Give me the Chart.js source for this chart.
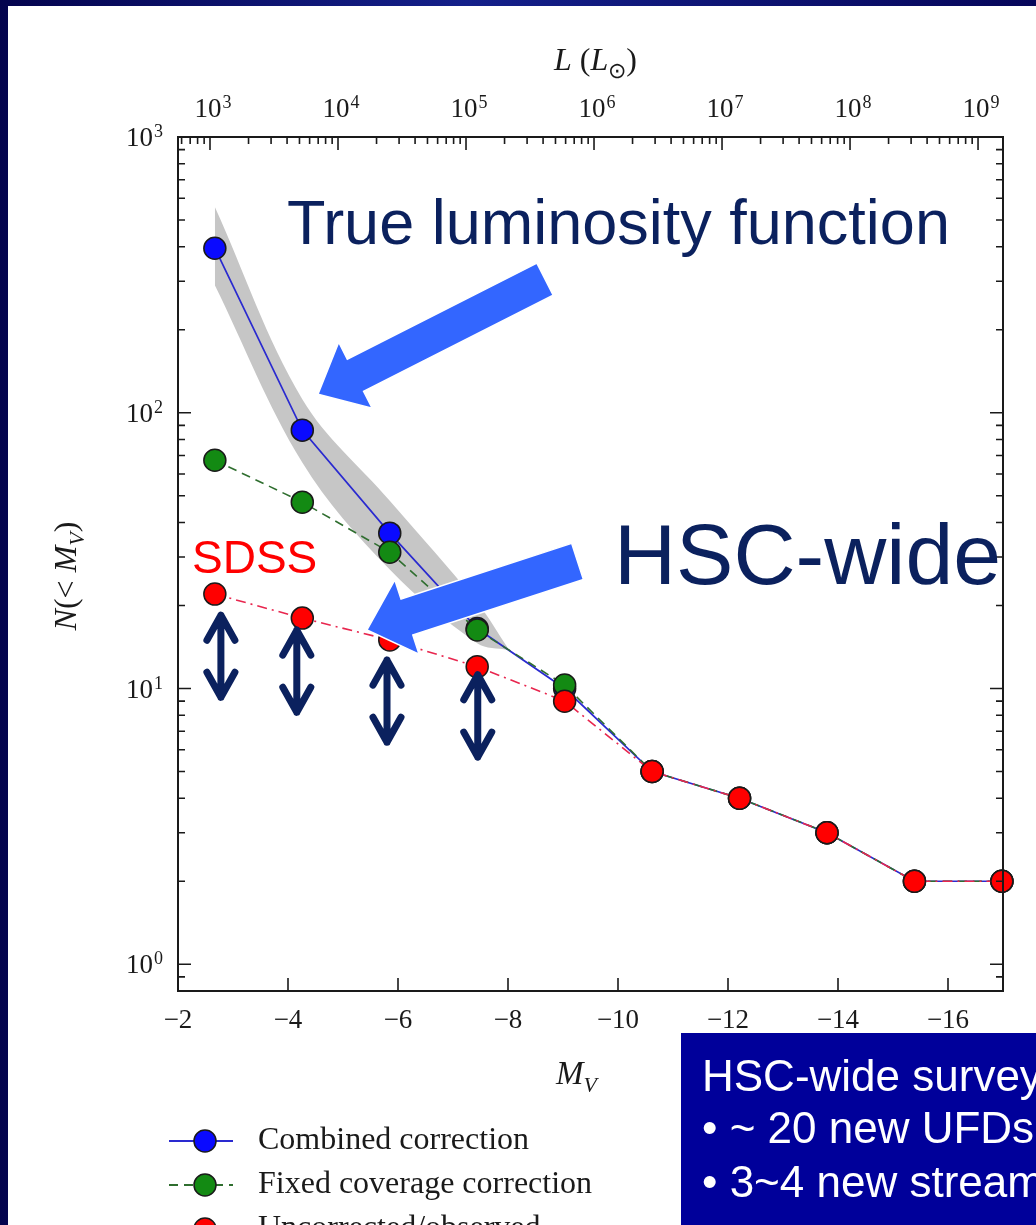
<!DOCTYPE html>
<html>
<head>
<meta charset="utf-8">
<title>Cumulative luminosity function of Milky Way satellites</title>
<style>
  html, body { margin: 0; padding: 0; background: #06065c; overflow: hidden; }
  #wrap { position: relative; width: 1036px; height: 1225px; }
  canvas { display: block; }
</style>
<script src="https://cdn.jsdelivr.net/npm/chart.js@4.4.1/dist/chart.umd.min.js"></script>
</head>
<body>
<div id="wrap"><canvas id="lf" width="1036" height="1225"></canvas></div>
<script>
// ---- data -------------------------------------------------------------
// absolute magnitude bins (M_V) shared by the three cumulative counts
const magnitudes    = [-2.67, -4.26, -5.85, -7.44, -9.03, -10.62, -12.21, -13.80, -15.39, -16.98];
const combined      = [395, 86.5, 36.6, 16.5, 10, 5, 4, 3, 2, 2];
const fixedCoverage = [67.3, 47.4, 31.2, 16.3, 10.3, 5, 4, 3, 2, 2];
const uncorrected   = [22, 18, 15, 12, 9, 5, 4, 3, 2, 2];

// uncertainty envelope around the combined correction
const bandMagnitudes = [-2.67, -4.26, -5.85, -7.44, -8.0];
const bandUpper      = [557, 112, 48, 20.5, 14];
const bandLower      = [290, 66, 27, 14.6, 13.8];

const seriesLabels = ['Combined correction', 'Fixed coverage correction', 'Uncorrected/observed'];

// axis ticks
const magTicks     = [-2, -4, -6, -8, -10, -12, -14, -16];
const countTicks   = [1, 10, 100, 1000];
const lumExponents = [3, 4, 5, 6, 7, 8, 9];

// ---- helpers ----------------------------------------------------------
const SERIF = '"Liberation Serif", "Times New Roman", serif';
const SANS = '"Liberation Sans", Arial, sans-serif';
const pts = (xs, ys) => xs.map((x, i) => ({ x: x, y: ys[i] }));

function partFont(p, size) {
  const s = p.sub ? Math.round(size * 0.68) : size;
  return (p.it ? 'italic ' : '') + s + 'px ' + SERIF;
}
function drawRich(ctx, parts, x, y, size) {
  let w = 0;
  parts.forEach(p => { ctx.font = partFont(p, size); w += ctx.measureText(p.t).width; });
  let cx = x - w / 2;
  ctx.textAlign = 'left';
  ctx.textBaseline = 'alphabetic';
  parts.forEach(p => {
    ctx.font = partFont(p, size);
    ctx.fillText(p.t, cx, y + (p.sub ? size * 0.25 : 0));
    cx += ctx.measureText(p.t).width;
  });
}

// "10" with a raised exponent; align = 'center' or 'right', y = baseline
function drawPow10(ctx, exp, x, y, align) {
  const base = '27px ' + SERIF, sup = '18px ' + SERIF;
  ctx.font = base; const wb = ctx.measureText('10').width;
  ctx.font = sup;  const we = ctx.measureText(String(exp)).width;
  const w = wb + we + 1;
  const x0 = align === 'right' ? x - w : x - w / 2;
  ctx.textAlign = 'left';
  ctx.textBaseline = 'alphabetic';
  ctx.font = base; ctx.fillText('10', x0, y);
  ctx.font = sup;  ctx.fillText(String(exp), x0 + wb + 1, y - 9);
}

// block arrow from tail to tip (both in pixels)
function blockArrow(ctx, tail, tip, shaftHalf, headLen, headHalf, color) {
  const dx = tail.x - tip.x, dy = tail.y - tip.y;
  const len = Math.hypot(dx, dy);
  const ux = dx / len, uy = dy / len;
  const nx = -uy, ny = ux;
  const P = (a, b) => [tip.x + ux * a + nx * b, tip.y + uy * a + ny * b];
  const poly = [P(0, 0), P(headLen, headHalf), P(headLen, shaftHalf), P(len, shaftHalf),
                P(len, -shaftHalf), P(headLen, -shaftHalf), P(headLen, -headHalf)];
  ctx.beginPath();
  poly.forEach((q, i) => i ? ctx.lineTo(q[0], q[1]) : ctx.moveTo(q[0], q[1]));
  ctx.closePath();
  ctx.fillStyle = color;
  ctx.fill();
  ctx.lineWidth = 1.5;
  ctx.strokeStyle = '#ffffff';
  ctx.stroke();
}

// vertical double-headed arrow with chevron heads
function doubleArrow(ctx, x, yTop, yBot, color) {
  ctx.save();
  ctx.strokeStyle = color;
  ctx.lineWidth = 7;
  ctx.lineCap = 'round';
  ctx.lineJoin = 'round';
  ctx.beginPath();
  ctx.moveTo(x, yTop + 3); ctx.lineTo(x, yBot - 3);
  ctx.moveTo(x - 14, yTop + 28); ctx.lineTo(x, yTop + 3); ctx.lineTo(x + 14, yTop + 28);
  ctx.moveTo(x - 14, yBot - 28); ctx.lineTo(x, yBot - 3); ctx.lineTo(x + 14, yBot - 28);
  ctx.stroke();
  ctx.restore();
}

// ---- slide annotations (anchored in data space) ----------------------
const bigArrows = [
  { tail: { m: -8.673, n: 305 }, tip: { m: -4.545, n: 116.8 }, shaft: 18, head: 42, headHalf: 37 },
  { tail: { m: -9.264, n: 28.9 }, tip: { m: -5.436, n: 16.3 }, shaft: 19, head: 42, headHalf: 39 }
];
const rangeArrows = [
  { m: -2.78, top: 18.9, bottom: 9.07 },
  { m: -4.16, top: 16.7, bottom: 8.0 },
  { m: -5.80, top: 13.0, bottom: 6.23 },
  { m: -7.45, top: 11.5, bottom: 5.5 }
];

// ---- plugins ----------------------------------------------------------
const slideBackground = {
  id: 'slideBackground',
  beforeDraw(chart) {
    const ctx = chart.ctx;
    const W = chart.width, H = chart.height;
    ctx.save();
    const g = ctx.createLinearGradient(0, 0, W, 0);
    g.addColorStop(0, '#04044e');
    g.addColorStop(0.45, '#14208a');
    g.addColorStop(1, '#06065a');
    ctx.fillStyle = g;
    ctx.fillRect(0, 0, W, H);
    ctx.fillStyle = '#ffffff';
    ctx.fillRect(8, 6, W - 8, H - 6);
    ctx.restore();
  }
};

const axisFrame = {
  id: 'axisFrame',
  afterDatasetsDraw(chart) {
    const ctx = chart.ctx;
    const a = chart.chartArea;
    const x = chart.scales.x, y = chart.scales.y, xt = chart.scales.xTop;
    ctx.save();
    ctx.strokeStyle = '#1a1a1a';
    ctx.lineWidth = 2;
    ctx.strokeRect(a.left, a.top, a.right - a.left, a.bottom - a.top);
    ctx.lineWidth = 1.6;
    ctx.beginPath();
    // logarithmic ticks on left and right edges
    for (let k = -1; k <= 2; k++) {
      for (let m = 1; m <= 9; m++) {
        const v = m * Math.pow(10, k);
        if (v <= y.min || v > y.max) continue;
        const py = y.getPixelForValue(v);
        const L = m === 1 ? 13 : 7;
        ctx.moveTo(a.left, py); ctx.lineTo(a.left + L, py);
        ctx.moveTo(a.right, py); ctx.lineTo(a.right - L, py);
      }
    }
    // magnitude ticks on the bottom edge
    magTicks.forEach(v => {
      const px = x.getPixelForValue(v);
      ctx.moveTo(px, a.bottom); ctx.lineTo(px, a.bottom - 13);
    });
    // luminosity ticks on the top edge
    for (let k = 2; k <= 9; k++) {
      for (let m = 1; m <= 9; m++) {
        const v = k + Math.log10(m);
        if (v < xt.min || v > xt.max) continue;
        const px = xt.getPixelForValue(v);
        const L = m === 1 ? 13 : 7;
        ctx.moveTo(px, a.top); ctx.lineTo(px, a.top + L);
      }
    }
    ctx.stroke();

    // power-of-ten tick labels (left and top)
    ctx.fillStyle = '#1a1a1a';
    y.ticks.forEach(t => {
      drawPow10(ctx, Math.round(Math.log10(t.value)), a.left - 15, y.getPixelForValue(t.value) + 9, 'right');
    });
    xt.ticks.forEach(t => {
      drawPow10(ctx, t.value, xt.getPixelForValue(t.value) + 3, a.top - 20, 'center');
    });
    ctx.restore();
  },
  afterDraw(chart) {
    const ctx = chart.ctx;
    const a = chart.chartArea;
    const x = chart.scales.x, y = chart.scales.y;
    const P = d => ({ x: x.getPixelForValue(d.m), y: y.getPixelForValue(d.n) });
    ctx.save();

    // axis titles
    ctx.fillStyle = '#1a1a1a';
    drawRich(ctx, [{ t: 'L', it: true }, { t: ' (' }, { t: 'L', it: true }, { t: '\u2299', sub: true }, { t: ')' }],
             (a.left + a.right) / 2 + 5, 70, 32);
    drawRich(ctx, [{ t: 'M', it: true }, { t: 'V', it: true, sub: true }], (a.left + a.right) / 2 - 14, 1084, 33);
    ctx.save();
    ctx.translate(66, 576);
    ctx.rotate(-Math.PI / 2);
    drawRich(ctx, [{ t: 'N', it: true }, { t: '(< ' }, { t: 'M', it: true }, { t: 'V', it: true, sub: true }, { t: ')' }], 0, 10, 32);
    ctx.restore();

    // legend
    const ds = chart.data.datasets;
    const rows = [2, 1, 0];
    rows.forEach((di, r) => {
      const d = ds[di];
      const cy = 1141 + r * 44;
      ctx.save();
      ctx.strokeStyle = d.borderColor;
      ctx.lineWidth = 1.8;
      ctx.setLineDash(d.borderDash || []);
      ctx.beginPath(); ctx.moveTo(169, cy); ctx.lineTo(233, cy); ctx.stroke();
      ctx.setLineDash([]);
      ctx.beginPath(); ctx.arc(205, cy, 11, 0, Math.PI * 2);
      ctx.fillStyle = d.pointBackgroundColor; ctx.fill();
      ctx.lineWidth = 1.5; ctx.strokeStyle = d.pointBorderColor; ctx.stroke();
      ctx.restore();
      ctx.fillStyle = '#1a1a1a';
      ctx.font = '32px ' + SERIF;
      ctx.textAlign = 'left';
      ctx.textBaseline = 'middle';
      ctx.fillText(d.label, 258, cy);
    });

    // slide call-outs
    ctx.textAlign = 'left';
    ctx.textBaseline = 'alphabetic';
    ctx.fillStyle = '#0b215e';
    ctx.font = '63px ' + SANS;
    ctx.fillText('True luminosity function', 287, 244);
    ctx.font = '86px ' + SANS;
    ctx.fillText('HSC-wide', 614, 584);
    ctx.fillStyle = '#ff0000';
    ctx.font = '46px ' + SANS;
    ctx.fillText('SDSS', 192, 573);

    bigArrows.forEach(b => blockArrow(ctx, P(b.tail), P(b.tip), b.shaft, b.head, b.headHalf, '#3366ff'));
    rangeArrows.forEach(r => doubleArrow(ctx, x.getPixelForValue(r.m), y.getPixelForValue(r.top), y.getPixelForValue(r.bottom), '#0b215e'));

    // survey summary box
    ctx.fillStyle = '#00009a';
    ctx.fillRect(681, 1033, 360, 200);
    ctx.fillStyle = '#ffffff';
    ctx.font = '44px ' + SANS;
    ctx.fillText('HSC-wide survey:', 702, 1091);
    ctx.fillText('\u2022 ~ 20 new UFDs', 702, 1143);
    ctx.fillText('\u2022 3~4 new streams', 702, 1197);
    ctx.restore();
  }
};

// ---- chart ------------------------------------------------------------
const tickFont = { family: SERIF, size: 27 };

new Chart(document.getElementById('lf'), {
  type: 'line',
  data: {
    datasets: [
      {
        label: seriesLabels[2], data: pts(magnitudes, uncorrected), order: 0,
        borderColor: '#e8264e', borderWidth: 1.6, borderDash: [10, 5, 2, 5],
        pointBackgroundColor: '#ff0000', pointBorderColor: '#1a1a1a',
        pointRadius: 11, pointHoverRadius: 11, pointBorderWidth: 1.5, fill: false, clip: false
      },
      {
        label: seriesLabels[1], data: pts(magnitudes, fixedCoverage), order: 1,
        borderColor: '#2f6e2f', borderWidth: 1.6, borderDash: [9, 6],
        pointBackgroundColor: '#138a13', pointBorderColor: '#1a1a1a',
        pointRadius: 11, pointHoverRadius: 11, pointBorderWidth: 1.5, fill: false, clip: false
      },
      {
        label: seriesLabels[0], data: pts(magnitudes, combined), order: 2,
        borderColor: '#2a2ad0', borderWidth: 1.7,
        pointBackgroundColor: '#0a0aff', pointBorderColor: '#1a1a1a',
        pointRadius: 11, pointHoverRadius: 11, pointBorderWidth: 1.5, fill: false, clip: false
      },
      {
        label: 'envelope upper', data: pts(bandMagnitudes, bandUpper), order: 3,
        borderWidth: 0, borderColor: 'rgba(0,0,0,0)', pointRadius: 0, tension: 0.35, fill: false
      },
      {
        label: 'envelope lower', data: pts(bandMagnitudes, bandLower), order: 4,
        borderWidth: 0, borderColor: 'rgba(0,0,0,0)', pointRadius: 0, tension: 0.35,
        fill: '-1', backgroundColor: '#c6c6c6'
      }
    ]
  },
  options: {
    responsive: false,
    animation: false,
    events: [],
    layout: { padding: { left: 0, right: 33, top: 0, bottom: 0 } },
    plugins: { legend: { display: false }, tooltip: { enabled: false } },
    scales: {
      x: {
        type: 'linear', position: 'bottom', min: -17, max: -2, reverse: true,
        grid: { display: false, drawTicks: false }, border: { display: false },
        afterBuildTicks: s => { s.ticks = magTicks.map(v => ({ value: v })); },
        afterFit: s => { s.height = 234; },
        ticks: { font: tickFont, color: '#1a1a1a', padding: 14, maxRotation: 0, autoSkip: false,
                 callback: v => '\u2212' + Math.abs(v) }
      },
      xTop: {
        type: 'linear', position: 'top', min: 2.75, max: 9.195,
        grid: { display: false, drawTicks: false }, border: { display: false },
        afterBuildTicks: s => { s.ticks = lumExponents.map(v => ({ value: v })); },
        afterFit: s => { s.height = 137; },
        ticks: { display: false }
      },
      y: {
        type: 'logarithmic', position: 'left', min: 0.8, max: 1000,
        grid: { display: false, drawTicks: false }, border: { display: false },
        afterBuildTicks: s => { s.ticks = countTicks.map(v => ({ value: v })); },
        afterFit: s => { s.width = 178; },
        ticks: { display: false }
      }
    }
  },
  plugins: [slideBackground, axisFrame]
});
</script>
</body>
</html>
